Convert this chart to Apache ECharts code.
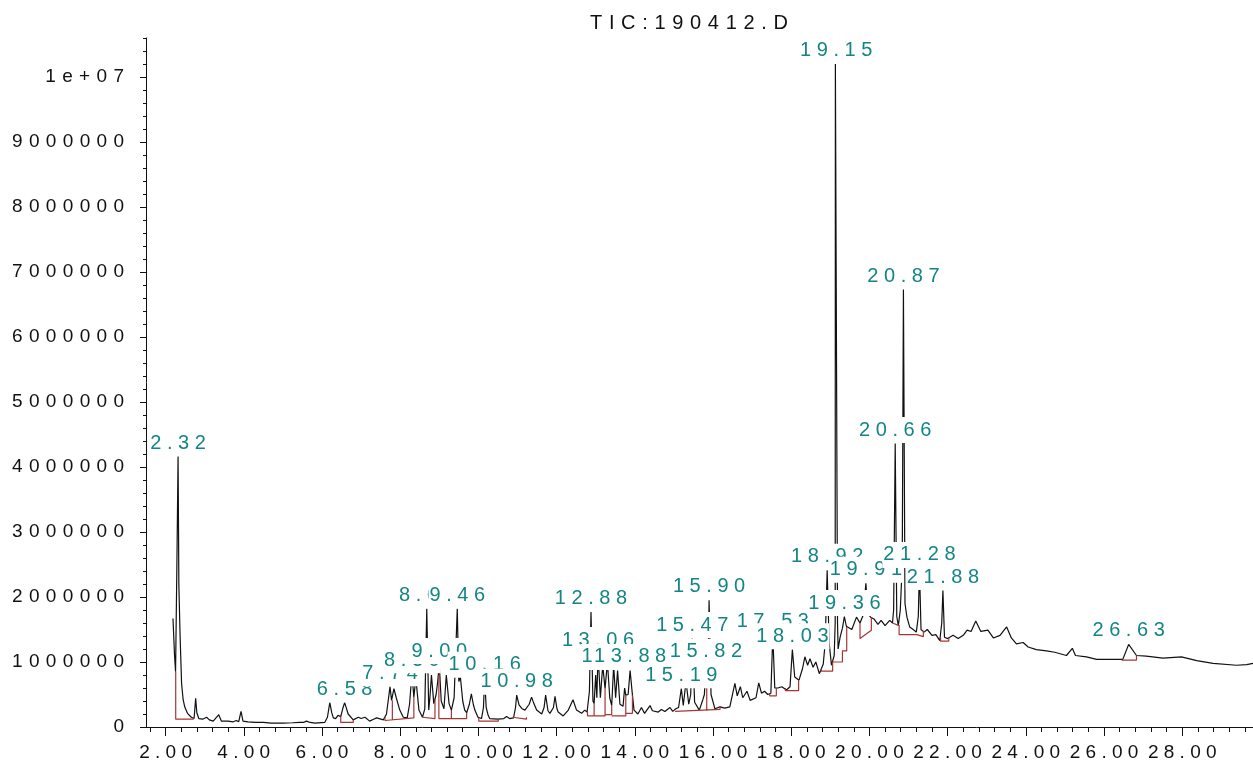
<!DOCTYPE html>
<html>
<head>
<meta charset="utf-8">
<title>TIC: 190412.D</title>
<script src="https://cdn.jsdelivr.net/npm/echarts@6/dist/echarts.min.js"></script>
<style>
  html, body { margin: 0; padding: 0; background: #fff; }
  #chart { width: 1253px; height: 764px; }
</style>
</head>
<body>
<div id="chart"></div>
<script>
// Total ion chromatogram: retention time (min), abundance (millions of counts)
const tic = [
  [2.19,1.67],[2.23,1.10],[2.256,0.85],[2.29,2.50],[2.32,4.16],[2.34,2.20],[2.37,1.44],[2.41,0.67],[2.45,0.42],[2.49,0.31],
  [2.56,0.21],[2.66,0.15],[2.73,0.13],[2.77,0.44],[2.80,0.22],[2.85,0.13],[2.95,0.12],[3.05,0.15],[3.12,0.11],[3.22,0.09],
  [3.36,0.19],[3.43,0.09],[3.60,0.09],[3.73,0.08],[3.81,0.10],[3.87,0.08],[3.93,0.24],[3.98,0.09],[4.11,0.08],[4.30,0.07],
  [4.50,0.07],[4.70,0.06],[5.01,0.06],[5.25,0.065],[5.43,0.07],[5.47,0.09],[5.53,0.07],[5.60,0.09],[5.70,0.07],[5.82,0.06],
  [6.07,0.07],[6.14,0.15],[6.20,0.375],[6.25,0.22],[6.29,0.14],[6.35,0.13],[6.41,0.18],[6.48,0.16],[6.53,0.28],[6.58,0.375],
  [6.67,0.20],[6.80,0.11],[6.93,0.15],[7.00,0.13],[7.10,0.15],[7.22,0.09],[7.32,0.12],[7.40,0.14],[7.57,0.11],[7.65,0.20],
  [7.74,0.62],[7.78,0.41],[7.84,0.59],[7.90,0.45],[7.99,0.26],[8.08,0.15],[8.18,0.14],[8.24,0.35],[8.30,0.82],[8.35,0.46],
  [8.40,0.75],[8.48,0.26],[8.57,0.15],[8.63,0.28],[8.68,1.82],[8.73,0.26],[8.76,0.45],[8.80,0.80],[8.86,0.36],[8.92,0.50],
  [8.96,0.70],[9.00,0.96],[9.05,0.40],[9.12,0.28],[9.18,0.80],[9.25,0.36],[9.31,0.26],[9.38,0.45],[9.46,1.82],[9.50,0.70],
  [9.54,0.77],[9.60,0.40],[9.65,0.26],[9.70,0.22],[9.77,0.35],[9.82,0.51],[9.87,0.35],[9.91,0.26],[9.99,0.15],[10.08,0.13],
  [10.13,0.30],[10.16,0.75],[10.20,0.30],[10.25,0.18],[10.29,0.13],[10.50,0.12],[10.65,0.13],[10.72,0.16],[10.80,0.13],[10.90,0.14],
  [10.95,0.30],[10.98,0.49],[11.04,0.34],[11.12,0.28],[11.19,0.26],[11.30,0.35],[11.36,0.46],[11.42,0.36],[11.49,0.26],[11.62,0.20],
  [11.68,0.30],[11.72,0.49],[11.78,0.25],[11.83,0.21],[11.92,0.30],[11.96,0.47],[12.01,0.28],[12.04,0.23],[12.17,0.17],[12.30,0.26],
  [12.42,0.42],[12.51,0.26],[12.64,0.21],[12.72,0.26],[12.78,0.23],[12.84,0.55],[12.88,1.77],[12.93,0.40],[12.96,0.36],[13.00,0.80],
  [13.03,0.45],[13.06,1.13],[13.12,0.45],[13.18,0.95],[13.24,0.59],[13.30,1.00],[13.36,0.45],[13.41,0.33],[13.46,0.95],[13.51,0.45],
  [13.56,0.87],[13.62,0.35],[13.70,0.32],[13.74,0.60],[13.77,0.49],[13.83,0.50],[13.88,0.87],[13.94,0.49],[13.98,0.26],[14.08,0.20],
  [14.17,0.30],[14.25,0.21],[14.39,0.33],[14.45,0.25],[14.60,0.23],[14.68,0.27],[14.77,0.24],[14.90,0.30],[14.97,0.24],[15.05,0.28],
  [15.12,0.30],[15.19,0.59],[15.24,0.33],[15.31,0.70],[15.38,0.35],[15.43,0.50],[15.47,1.36],[15.53,0.38],[15.65,0.26],[15.74,0.42],
  [15.78,0.50],[15.82,0.95],[15.84,0.60],[15.87,0.70],[15.90,1.95],[15.95,0.50],[16.05,0.28],[16.18,0.31],[16.30,0.29],[16.43,0.31],
  [16.56,0.67],[16.62,0.48],[16.70,0.62],[16.76,0.45],[16.87,0.55],[16.95,0.41],[17.10,0.45],[17.17,0.68],[17.24,0.52],[17.32,0.55],
  [17.40,0.50],[17.48,0.52],[17.53,1.42],[17.58,0.60],[17.66,0.60],[17.76,0.62],[17.88,0.57],[17.97,0.62],[18.03,1.19],[18.09,0.77],
  [18.20,0.72],[18.29,0.90],[18.35,1.08],[18.42,0.95],[18.48,1.05],[18.56,0.92],[18.63,1.00],[18.72,0.82],[18.82,0.97],[18.87,1.30],
  [18.92,2.41],[18.97,1.30],[19.03,0.95],[19.10,1.10],[19.125,1.60],[19.13,10.20],[19.15,10.20],[19.18,10.20],[19.185,1.60],[19.20,1.20],
  [19.25,1.38],[19.31,1.52],[19.36,1.70],[19.41,1.55],
  [19.46,1.57],[19.55,1.50],[19.67,1.69],[19.76,1.60],[19.84,1.72],[19.91,2.21],[19.96,1.75],[20.03,1.69],[20.12,1.66],[20.22,1.58],
  [20.30,1.64],[20.40,1.56],[20.52,1.64],[20.59,1.60],[20.62,1.80],[20.66,4.36],[20.70,1.70],[20.74,1.56],[20.79,1.80],[20.84,2.50],
  [20.87,6.73],[20.91,1.90],[20.96,1.69],[21.03,1.54],[21.12,1.50],[21.20,1.46],[21.25,1.70],[21.28,2.44],[21.32,1.50],[21.40,1.46],
  [21.48,1.50],[21.60,1.41],[21.70,1.42],[21.80,1.33],[21.85,1.60],[21.88,2.10],[21.92,1.38],[22.00,1.36],[22.14,1.41],[22.27,1.36],
  [22.40,1.41],[22.50,1.49],[22.60,1.47],[22.72,1.63],[22.85,1.47],[23.03,1.49],[23.17,1.37],[23.34,1.41],[23.51,1.54],[23.63,1.37],
  [23.76,1.28],[23.93,1.30],[24.06,1.23],[24.27,1.19],[24.53,1.17],[24.74,1.15],[25.04,1.10],[25.19,1.21],[25.27,1.10],[25.55,1.08],
  [25.81,1.04],[26.24,1.04],[26.48,1.04],[26.63,1.27],[26.83,1.10],[27.08,1.09],[27.51,1.06],[27.98,1.08],[28.37,1.02],[28.79,0.98],
  [29.39,0.95],[29.65,0.96],[29.81,0.98]
];

// Retention times of the labelled (integrated) peaks
const peakTimes = [2.32, 6.58, 7.74, 8.30, 8.68, 9.00, 9.46, 10.16, 10.98, 12.88, 13.06, 13.56, 13.88,
  15.19, 15.47, 15.82, 15.90, 17.53, 18.03, 18.92, 19.15, 19.36, 19.91, 20.66, 20.87, 21.28, 21.88, 26.63];

// Integration baselines and drop lines (time, millions of counts)
const baselines = [
  [[2.26,0.85],[2.26,0.12],[2.71,0.12],[2.71,0.15]],
  [[6.48,0.16],[6.48,0.07],[6.80,0.07],[6.80,0.11]],
  [[7.61,0.15],[7.61,0.10],[8.35,0.14],[8.35,0.46]],
  [[7.80,0.105],[7.80,0.41]],
  [[8.57,0.15],[8.57,0.13],[8.89,0.13],[8.89,0.42]],
  [[8.99,0.80],[8.99,0.13],[9.70,0.13],[9.70,0.22]],
  [[9.31,0.13],[9.31,0.26]],
  [[10.01,0.14],[10.01,0.09],[10.51,0.09],[10.51,0.12]],
  [[10.87,0.15],[10.87,0.12],[11.23,0.12],[11.23,0.15]],
  [[12.79,0.23],[12.79,0.17],[13.24,0.17],[13.24,0.59]],
  [[12.96,0.17],[12.96,0.36]],
  [[13.24,0.19],[13.41,0.19],[13.41,0.33]],
  [[13.41,0.17],[13.77,0.17],[13.77,0.49]],
  [[13.77,0.21],[13.94,0.21],[13.94,0.49]],
  [[15.03,0.24],[15.03,0.21],[16.18,0.27],[16.18,0.31]],
  [[15.84,0.245],[15.84,0.60]],
  [[17.45,0.52],[17.45,0.48],[17.62,0.48],[17.62,0.60]],
  [[17.85,0.60],[17.85,0.56],[18.19,0.56],[18.19,0.72]],
  [[18.77,0.90],[18.77,0.86],[19.06,0.86],[19.06,1.00],[19.31,1.00],[19.31,1.17],[19.42,1.17],[19.42,1.54]],
  [[19.76,1.60],[19.76,1.36],[20.05,1.49],[20.05,1.69]],
  [[20.59,1.60],[20.76,1.56],[20.76,1.42],[21.21,1.42],[21.21,1.39],[21.38,1.39],[21.38,1.48]],
  [[21.82,1.38],[21.82,1.32],[22.03,1.32],[22.03,1.38]],
  [[26.45,1.03],[26.83,1.03],[26.83,1.10]]
];

// Axis ticks
const xMajorTicks = [2, 4, 6, 8, 10, 12, 14, 16, 18, 20, 22, 24, 26, 28];
const yMajorTicks = [0, 1e6, 2e6, 3e6, 4e6, 5e6, 6e6, 7e6, 8e6, 9e6, 1e7];
const xMinorTicks = [];
for (let k = 4; k * 0.4 <= 29.81; k++) xMinorTicks.push(+(k * 0.4).toFixed(1));
const yMinorTicks = [];
for (let k = 0; k <= 53; k++) yMinorTicks.push(k * 2e5);

const X_MIN = 1.5, X_MAX = 29.81, Y_MAX = 10.6e6;
const FONT = '"Liberation Sans", Arial, Helvetica, sans-serif';
const TEAL = '#138585';
const BASE_RED = '#a53535';
const M = 1e6;

const spaced = (s, gap) => Array.from(s).join(gap);
const WIDE = '\u2004';

const traceData = tic.map(([t, a]) => [t, a * M]);
const apex = t => tic.find(p => Math.abs(p[0] - t) < 1e-6)[1] * M;
const peakData = peakTimes.map(t => [t, apex(t)]);
const baselineData = [];
baselines.forEach(seg => {
  seg.forEach(([t, a]) => baselineData.push([t, a * M]));
  baselineData.push(['-', '-']);
});

const chart = echarts.init(document.getElementById('chart'), null, { renderer: 'canvas' });
chart.setOption({
  animation: false,
  backgroundColor: '#fff',
  title: {
    text: spaced('TIC:190412.D', WIDE),
    left: 590,
    top: 13,
    padding: 0,
    textStyle: { fontFamily: FONT, fontSize: 20, fontWeight: 'normal', color: '#111' }
  },
  grid: { left: 146, right: 0, top: 38, bottom: 37, containLabel: false },
  xAxis: [
    {
      type: 'value', min: X_MIN, max: X_MAX,
      axisLine: { show: true, onZero: false, lineStyle: { color: '#111', width: 1 } },
      axisTick: { show: true, customValues: xMajorTicks, length: 9, lineStyle: { color: '#111' } },
      axisLabel: {
        customValues: xMajorTicks, margin: 16,
        formatter: v => spaced(v.toFixed(2), ' '),
        fontFamily: FONT, fontSize: 19, color: '#111'
      },
      splitLine: { show: false }
    },
    {
      type: 'value', min: X_MIN, max: X_MAX, position: 'bottom',
      axisLine: { show: false },
      axisTick: { show: true, customValues: xMinorTicks, length: 5, lineStyle: { color: '#111' } },
      axisLabel: { show: false },
      splitLine: { show: false }
    }
  ],
  yAxis: [
    {
      type: 'value', min: 0, max: Y_MAX, position: 'left',
      axisLine: { show: true, onZero: false, lineStyle: { color: '#111', width: 1 } },
      axisTick: { show: true, customValues: yMajorTicks, length: 6, lineStyle: { color: '#111' } },
      axisLabel: {
        customValues: yMajorTicks, margin: 22,
        formatter: v => spaced(v >= 1e7 ? '1e+07' : String(v), WIDE),
        fontFamily: FONT, fontSize: 19, color: '#111'
      },
      splitLine: { show: false }
    },
    {
      type: 'value', min: 0, max: Y_MAX, position: 'left',
      axisLine: { show: false },
      axisTick: { show: true, customValues: yMinorTicks, length: 3, lineStyle: { color: '#111' } },
      axisLabel: { show: false },
      splitLine: { show: false }
    }
  ],
  series: [
    {
      name: 'TIC', type: 'line', xAxisIndex: 0, yAxisIndex: 0,
      data: traceData, showSymbol: false, symbol: 'none', sampling: null,
      lineStyle: { color: '#111', width: 1.2 },
      silent: true, z: 2
    },
    {
      name: 'baseline', type: 'line', xAxisIndex: 0, yAxisIndex: 0,
      data: baselineData, showSymbol: false, symbol: 'none', connectNulls: false,
      lineStyle: { color: BASE_RED, width: 1.2 },
      silent: true, z: 3
    },
    {
      name: 'peaks', type: 'scatter', xAxisIndex: 0, yAxisIndex: 0,
      data: peakData, symbolSize: 1,
      itemStyle: { color: 'rgba(255,255,255,0)', opacity: 1 },
      label: {
        show: true, position: 'top', distance: 0, opacity: 1,
        formatter: p => spaced(p.value[0].toFixed(2), ' '),
        fontFamily: FONT, fontSize: 20, lineHeight: 22, color: TEAL,
        backgroundColor: '#ffffff', padding: [2, 1, 2, 1]
      },
      emphasis: { disabled: true },
      silent: true, z: 5
    }
  ]
});
</script>
</body>
</html>
